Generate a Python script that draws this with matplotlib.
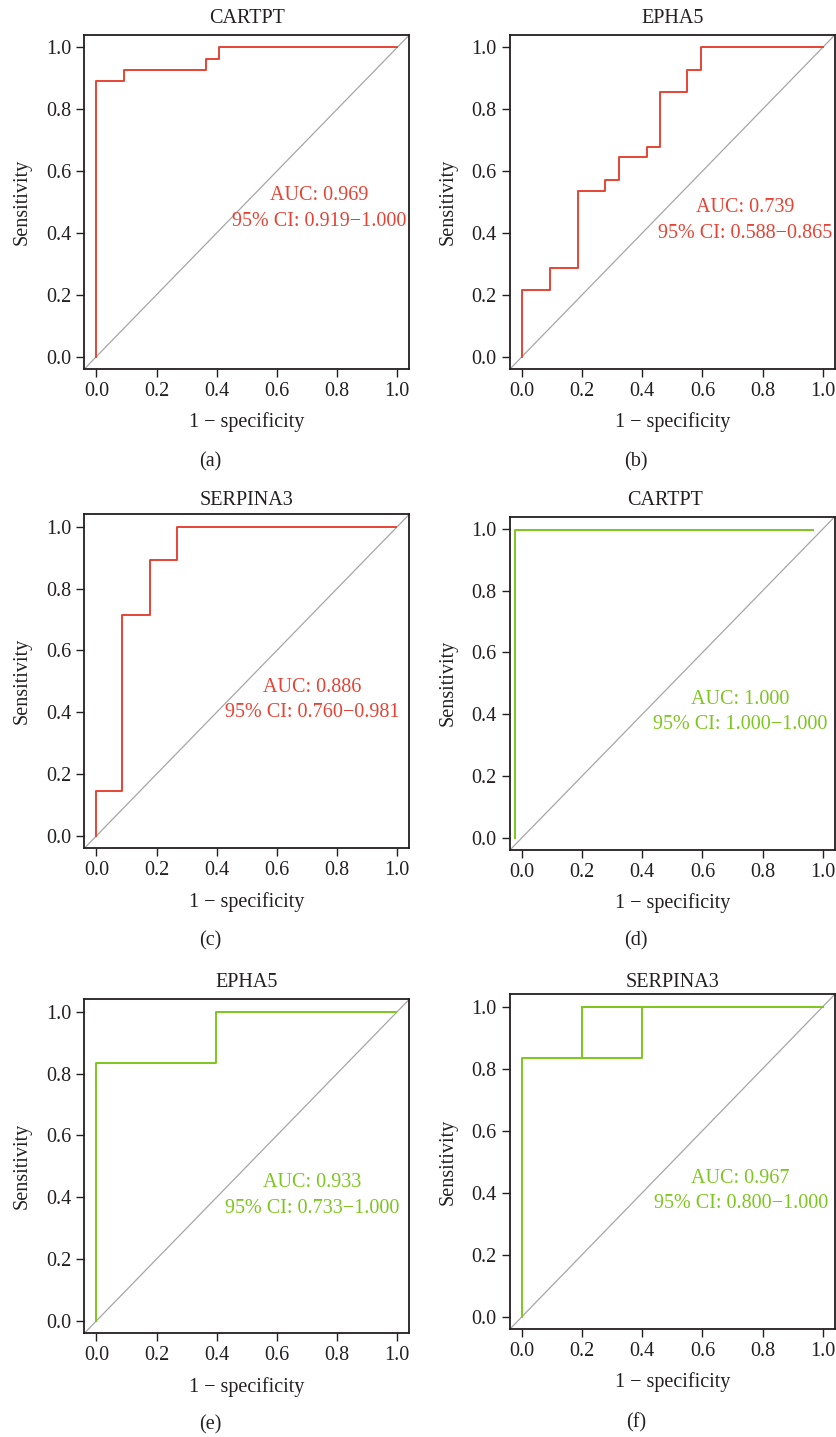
import matplotlib
matplotlib.use("Agg")
import matplotlib.pyplot as plt

plt.rcParams['font.family'] = ['Liberation Serif', 'DejaVu Serif']

# ---------------- data ----------------
titles = ["CARTPT", "EPHA5", "SERPINA3", "CARTPT", "EPHA5", "SERPINA3"]
panel_tags = ["(a)", "(b)", "(c)", "(d)", "(e)", "(f)"]
auc_text = ["AUC: 0.969", "AUC: 0.739", "AUC: 0.886", "AUC: 1.000", "AUC: 0.933", "AUC: 0.967"]
ci_text = ["95% CI: 0.919\u22121.000", "95% CI: 0.588\u22120.865", "95% CI: 0.760\u22120.981",
           "95% CI: 1.000\u22121.000", "95% CI: 0.733\u22121.000", "95% CI: 0.800\u22121.000"]

# ROC curves (1 - specificity, sensitivity)
a_fpr = [0.0, 0.0, 0.091, 0.091, 0.364, 0.364, 0.409, 0.409, 1.0]
a_tpr = [0.0, 0.891, 0.891, 0.927, 0.927, 0.963, 0.963, 1.0, 1.0]

b_fpr = [0.0, 0.0, 0.093, 0.093, 0.185, 0.185, 0.276, 0.276, 0.321, 0.321,
         0.414, 0.414, 0.458, 0.458, 0.549, 0.549, 0.595, 0.595, 1.0]
b_tpr = [0.0, 0.214, 0.214, 0.286, 0.286, 0.535, 0.535, 0.571, 0.571, 0.644,
         0.644, 0.678, 0.678, 0.857, 0.857, 0.928, 0.928, 1.0, 1.0]

c_fpr = [0.0, 0.0, 0.086, 0.086, 0.177, 0.177, 0.268, 0.268, 0.996]
c_tpr = [0.0, 0.144, 0.144, 0.714, 0.714, 0.892, 0.892, 1.0, 1.0]

d_fpr = [-0.024, -0.024, 0.969]
d_tpr = [0.0, 0.997, 0.997]

e_fpr = [0.0, 0.0, 0.399, 0.399, 0.996]
e_tpr = [0.0, 0.833, 0.833, 1.0, 1.0]

f_fpr = [0.0, 0.0, 0.4, 0.4, 0.2, 0.2, 0.2, 1.0]
f_tpr = [0.0, 0.833, 0.833, 1.0, 1.0, 0.833, 1.0, 1.0]

fprs = [a_fpr, b_fpr, c_fpr, d_fpr, e_fpr, f_fpr]
tprs = [a_tpr, b_tpr, c_tpr, d_tpr, e_tpr, f_tpr]

# AUC text anchor (data coords): x center, y of AUC line, y of CI line
txt_x = [0.74, 0.742, 0.716, 0.727, 0.717, 0.727]
txt_y1 = [0.522, 0.482, 0.479, 0.449, 0.448, 0.447]
txt_y2 = [0.436, 0.398, 0.398, 0.366, 0.364, 0.365]

ticks = [0.0, 0.2, 0.4, 0.6, 0.8, 1.0]
tick_labels = ["0.0", "0.2", "0.4", "0.6", "0.8", "1.0"]

# ---------------- style / layout ----------------
RED = "#E64334"
GREEN = "#7DC61E"
colors = [RED, RED, RED, GREEN, GREEN, GREEN]
TXT = "#231F20"
FS = 14.5

W, H = 836, 1437
# axes boxes in pixels: left, right, top, bottom
boxes = [
    (84.3, 409.3, 35.0, 369.0),
    (510.0, 834.8, 35.0, 369.0),
    (84.3, 409.3, 514.3, 848.3),
    (510.0, 834.8, 516.7, 850.0),
    (84.3, 409.3, 999.3, 1333.3),
    (510.0, 834.8, 994.3, 1329.0),
]
title_pad = [8.6, 8.6, 6.7, 8.4, 8.6, 5.0]
title_x = [0.5, 0.5, 0.5, 0.477, 0.5, 0.5]
tag_pos = [(210, 462), (636, 462), (210, 941), (636, 941), (210, 1425), (636, 1423)]

fig = plt.figure(figsize=(W / 100, H / 100), dpi=100)
fig.patch.set_facecolor("white")

for i in range(6):
    l, r, t, b = boxes[i]
    ax = fig.add_axes([l / W, 1 - b / H, (r - l) / W, (b - t) / H])
    ax.set_xlim(-0.04, 1.04)
    ax.set_ylim(-0.04, 1.04)
    ax.axline((0, 0), slope=1, color="#A6A6A6", lw=0.9, zorder=1)
    ax.plot(fprs[i], tprs[i], color=colors[i], lw=1.4, zorder=2)
    ax.text(txt_x[i], txt_y1[i], auc_text[i], color=colors[i], fontsize=FS,
            ha="center", va="center")
    ax.text(txt_x[i], txt_y2[i], ci_text[i], color=colors[i], fontsize=FS,
            ha="center", va="center")
    ax.set_xticks(ticks)
    ax.set_xticklabels(tick_labels)
    ax.set_yticks(ticks)
    ax.set_yticklabels(tick_labels)
    ax.tick_params(axis="both", direction="out", length=5.5, width=1.0,
                   labelsize=FS, colors=TXT, pad=4)
    for sp in ax.spines.values():
        sp.set_linewidth(1.3)
        sp.set_color(TXT)
    ax.set_title(titles[i], fontsize=FS, color=TXT, pad=title_pad[i], x=title_x[i])
    ax.set_xlabel("1 \u2212 specificity", fontsize=FS, color=TXT, va="center")
    ax.xaxis.set_label_coords(0.5, -53.5 / (b - t))
    ax.set_ylabel("Sensitivity", fontsize=FS, color=TXT, va="center")
    ax.yaxis.set_label_coords(-62.0 / (r - l), 0.5)
    fig.text(tag_pos[i][0] / W, 1 - tag_pos[i][1] / H, panel_tags[i], fontsize=FS,
             color=TXT, ha="center", va="center")

fig.savefig("out.png", dpi=100, facecolor="white")
